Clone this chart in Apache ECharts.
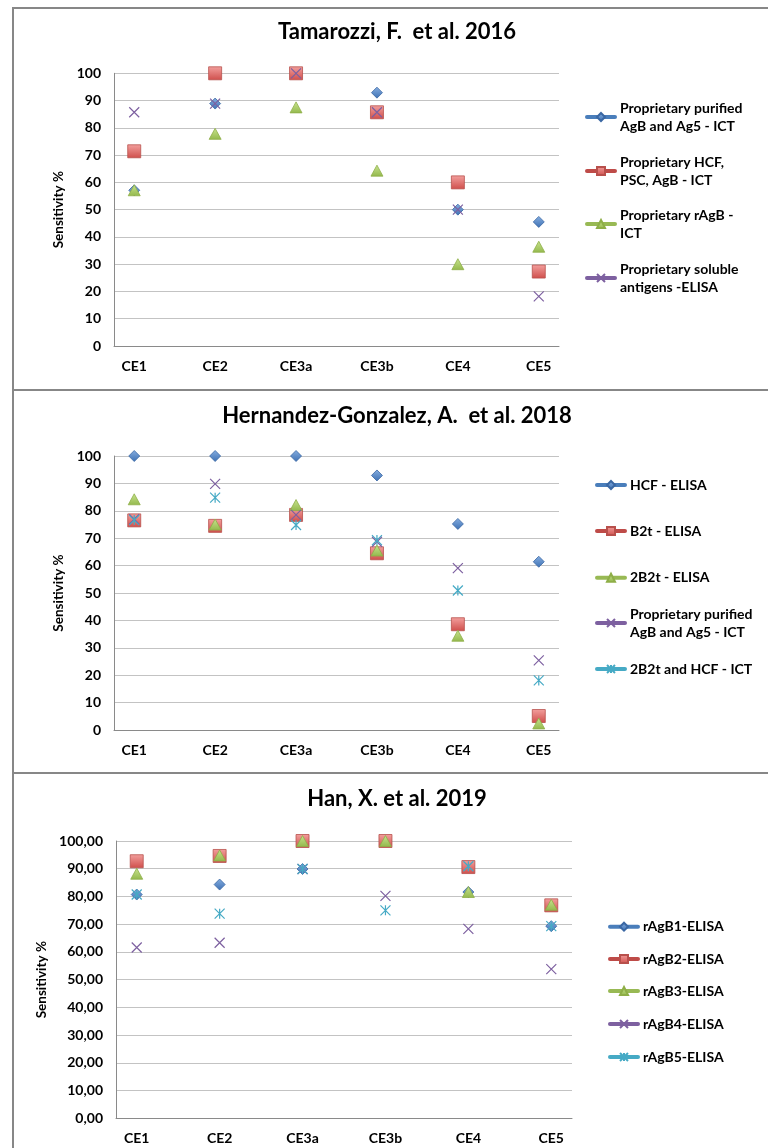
<!DOCTYPE html>
<html>
<head>
<meta charset="utf-8">
<title>Sensitivity by cyst stage</title>
<script src="https://cdn.jsdelivr.net/npm/echarts@6/dist/echarts.min.js"></script>
<style>
  html, body { margin: 0; padding: 0; background: #fff; }
  body { width: 768px; height: 1148px; position: relative; overflow: hidden; }
  .chart { position: absolute; left: 0; width: 768px; }
  .frame { position: absolute; left: 12px; width: 800px; box-sizing: border-box; border: 2px solid #878787; pointer-events: none; }
</style>
</head>
<body>
<div id="c1" class="chart" style="top:0;height:389px"></div>
<div id="c2" class="chart" style="top:389px;height:384px"></div>
<div id="c3" class="chart" style="top:773px;height:375px"></div>
<div class="frame" style="top:7px;height:384px"></div>
<div class="frame" style="top:389px;height:385px"></div>
<div class="frame" style="top:772px;height:420px"></div>
<script>
// Cyst stages on the horizontal axis
const categories = ['CE1', 'CE2', 'CE3a', 'CE3b', 'CE4', 'CE5'];
const yTicks = [0, 10, 20, 30, 40, 50, 60, 70, 80, 90, 100];

// Tamarozzi, F. et al. 2016 — sensitivity % per stage
const tamPurifiedAgBAg5Ict = [57.1, 88.9, 100, 92.9, 50, 45.5];
const tamHcfPscAgBIct = [71.4, 100, 100, 85.7, 60, 27.3];
const tamRAgBIct = [57.1, 77.8, 87.5, 64.3, 30, 36.4];
const tamSolubleAntigensElisa = [85.7, 88.9, 100, 85.7, 50, 18.2];

// Hernandez-Gonzalez, A. et al. 2018
const hgHcfElisa = [100, 100, 100, 92.9, 75.2, 61.4];
const hgB2tElisa = [76.5, 74.5, 78.5, 64.5, 38.6, 5.1];
const hg2B2tElisa = [84.2, 75, 82.1, 65.5, 34.4, 2.4];
const hgPurifiedAgBAg5Ict = [76.9, 89.8, 78.5, 68.7, 59.1, 25.4];
const hg2B2tHcfIct = [76.6, 84.8, 74.8, 69.3, 50.9, 18.1];

// Han, X. et al. 2019
const hanRAgB1 = [80.7, 84.3, 89.9, 100, 81.6, 69.3];
const hanRAgB2 = [92.7, 94.6, 100, 100, 90.6, 76.8];
const hanRAgB3 = [88.2, 94.8, 100, 100, 81.6, 77.0];
const hanRAgB4 = [61.6, 63.3, 89.9, 80.2, 68.3, 53.8];
const hanRAgB5 = [80.7, 73.8, 89.9, 75.0, 90.9, 69.3];

const FONT = 'Lato';
const AXIS_GRAY = '#8a8a8a';
const GRID_GRAY = '#c3c3c3';

function grad(top, bottom) {
  return new echarts.graphic.LinearGradient(0, 0, 0, 1, [
    { offset: 0, color: top }, { offset: 1, color: bottom }
  ]);
}

// Marker styles in the order series appear in each panel
const markers = [
  { color: '#4a7ebb', symbol: 'diamond', size: 11, itemStyle: { color: grad('#86aee0', '#3d70b3'), borderColor: '#3a67a3', borderWidth: 0.8 } },
  { color: '#be4b48', symbol: 'rect', size: 13, itemStyle: { color: grad('#f3a09e', '#cf4e4b'), borderColor: '#b8504c', borderWidth: 0.8 } },
  { color: '#98b954', symbol: 'triangle', size: [12, 11], itemStyle: { color: grad('#c9e48f', '#93b84c'), borderColor: '#8eae47', borderWidth: 0.8 } },
  { color: '#7d60a0', symbol: 'path://M0,0L10,10M10,0L0,10', size: 10, itemStyle: { color: '#7d60a0', borderColor: '#7d60a0', borderWidth: 1.2 } },
  { color: '#46aac5', symbol: 'path://M0,0L10,10M10,0L0,10M5,0L5,10', size: 10, itemStyle: { color: '#46aac5', borderColor: '#46aac5', borderWidth: 1.2 } }
];

function makeSeries(name, values, idx) {
  const m = markers[idx];
  return {
    name: name,
    type: 'line',
    data: values.map((v, i) => [i, v]),
    symbol: m.symbol,
    symbolSize: m.size,
    showSymbol: true,
    color: m.color,
    itemStyle: m.itemStyle,
    lineStyle: { color: m.color, opacity: 0, width: 0.01 },
    emphasis: { disabled: true },
    silent: true,
    z: 2 + idx
  };
}

// One legend block per entry so the icon sits on the first text line
function makeLegend(name, left, iconCenterY) {
  const twoLines = name.indexOf('\n') >= 0;
  return {
    data: [name],
    left: left,
    top: twoLines ? iconCenterY - 27 : iconCenterY - 9,
    orient: 'vertical',
    padding: 0,
    itemGap: 0,
    itemWidth: 28,
    itemHeight: 10,
    selectedMode: false,
    lineStyle: { opacity: 1, width: 4, cap: 'round' },
    textStyle: {
      fontFamily: FONT, fontWeight: 'bold', fontSize: 14, color: '#000',
      lineHeight: 18, padding: twoLines ? [18, 0, 0, 0] : 0
    }
  };
}

function buildOption(p) {
  return {
    animation: false,
    backgroundColor: 'transparent',
    title: {
      text: p.title, left: p.titleX, top: p.titleY, textAlign: 'center', padding: 0,
      textStyle: { fontFamily: FONT, fontWeight: 'bold', fontSize: 22, color: '#000' }
    },
    grid: { left: p.grid.left, top: p.grid.top, width: p.grid.width, height: p.grid.height, containLabel: false },
    xAxis: {
      type: 'value', min: -0.25, max: 5.25,
      axisLine: { show: true, onZero: false, lineStyle: { color: AXIS_GRAY, width: 1 } },
      axisTick: { show: false },
      splitLine: { show: false },
      axisLabel: {
        customValues: categories.map((c, i) => i),
        formatter: v => categories[Math.round(v)],
        fontFamily: FONT, fontWeight: 'bold', fontSize: 14, color: '#000', margin: 13
      }
    },
    yAxis: {
      type: 'value', min: yTicks[0], max: yTicks[yTicks.length - 1], interval: 10,
      name: 'Sensitivity %', nameLocation: 'middle', nameRotate: 90, nameGap: p.nameGap,
      nameTextStyle: { fontFamily: FONT, fontWeight: 'bold', fontSize: 13.5, color: '#000' },
      axisLine: { show: true, onZero: false, lineStyle: { color: AXIS_GRAY, width: 1 } },
      axisTick: { show: false },
      splitLine: { show: true, lineStyle: { color: GRID_GRAY, width: 1 } },
      axisLabel: {
        formatter: p.labelFormatter,
        fontFamily: FONT, fontWeight: 'bold', fontSize: 14, color: '#000', margin: p.labelMargin
      }
    },
    legend: p.names.map((n, i) => makeLegend(n, p.legendX, p.legendY[i])),
    series: p.names.map((n, i) => makeSeries(n, p.values[i], i))
  };
}

const panels = [
  {
    el: 'c1',
    title: 'Tamarozzi, F.  et al. 2016', titleX: 397, titleY: 21,
    grid: { left: 114, top: 73.3, width: 445, height: 272.7 },
    nameGap: 46, labelMargin: 13, labelFormatter: v => String(v),
    names: ['Proprietary purified\nAgB and Ag5 - ICT', 'Proprietary HCF,\nPSC, AgB - ICT', 'Proprietary rAgB -\nICT', 'Proprietary soluble\nantigens -ELISA'],
    values: [tamPurifiedAgBAg5Ict, tamHcfPscAgBIct, tamRAgBIct, tamSolubleAntigensElisa],
    legendX: 585, legendY: [117, 171, 224, 278]
  },
  {
    el: 'c2',
    title: 'Hernandez-Gonzalez, A.  et al. 2018', titleX: 397, titleY: 16,
    grid: { left: 114, top: 67, width: 445, height: 274 },
    nameGap: 46, labelMargin: 13, labelFormatter: v => String(v),
    names: ['HCF - ELISA', 'B2t - ELISA', '2B2t - ELISA', 'Proprietary purified\nAgB and Ag5 - ICT', '2B2t and HCF - ICT'],
    values: [hgHcfElisa, hgB2tElisa, hg2B2tElisa, hgPurifiedAgBAg5Ict, hg2B2tHcfIct],
    legendX: 595, legendY: [96, 142, 188.7, 234, 280]
  },
  {
    el: 'c3',
    title: 'Han, X. et al. 2019', titleX: 397, titleY: 15,
    grid: { left: 116, top: 68, width: 456, height: 277.3 },
    nameGap: 66, labelMargin: 13, labelFormatter: v => v.toFixed(2).replace('.', ','),
    names: ['rAgB1-ELISA', 'rAgB2-ELISA', 'rAgB3-ELISA', 'rAgB4-ELISA', 'rAgB5-ELISA'],
    values: [hanRAgB1, hanRAgB2, hanRAgB3, hanRAgB4, hanRAgB5],
    legendX: 608, legendY: [153.7, 186, 218, 251, 284]
  }
];

panels.forEach(p => {
  const chart = echarts.init(document.getElementById(p.el), null, { renderer: 'canvas' });
  chart.setOption(buildOption(p));
});
</script>
</body>
</html>
